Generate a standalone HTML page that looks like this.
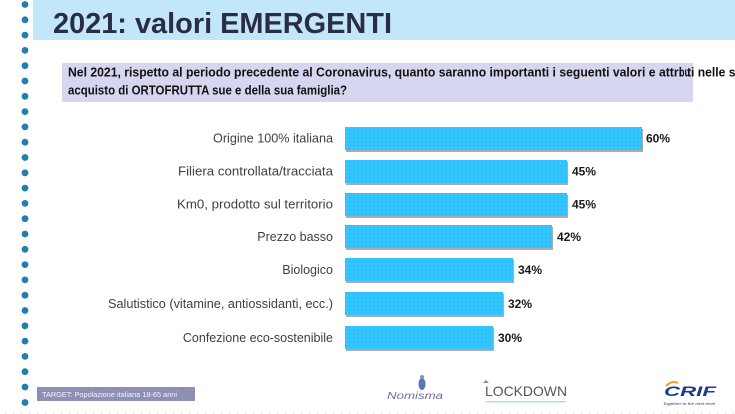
<!DOCTYPE html>
<html>
<head>
<meta charset="utf-8">
<style>
  html,body{margin:0;padding:0;background:#fff;}
  svg{display:block;}
  text{font-family:"Liberation Sans",Arial,sans-serif;}
</style>
</head>
<body>
<svg width="735" height="414" viewBox="0 0 735 414" xmlns="http://www.w3.org/2000/svg">
  <defs>
    <pattern id="barpat" width="4" height="4" patternUnits="userSpaceOnUse">
      <rect width="4" height="4" fill="#33c5ff"/>
      <rect x="1" y="1" width="1" height="1" fill="#2aa8f0"/>
    </pattern>
  </defs>

  <!-- left dots -->
  <g fill="#1f7fae">
    <circle cx="25" cy="4.5" r="3.4"/><circle cx="25" cy="19.8" r="3.4"/><circle cx="25" cy="35.1" r="3.4"/>
    <circle cx="25" cy="50.4" r="3.4"/><circle cx="25" cy="65.7" r="3.4"/><circle cx="25" cy="81" r="3.4"/>
    <circle cx="25" cy="96.3" r="3.4"/><circle cx="25" cy="111.6" r="3.4"/><circle cx="25" cy="126.9" r="3.4"/>
    <circle cx="25" cy="142.2" r="3.4"/><circle cx="25" cy="157.5" r="3.4"/><circle cx="25" cy="172.8" r="3.4"/>
    <circle cx="25" cy="188.1" r="3.4"/><circle cx="25" cy="203.4" r="3.4"/><circle cx="25" cy="218.7" r="3.4"/>
    <circle cx="25" cy="234" r="3.4"/><circle cx="25" cy="249.3" r="3.4"/><circle cx="25" cy="264.6" r="3.4"/>
    <circle cx="25" cy="279.9" r="3.4"/><circle cx="25" cy="295.2" r="3.4"/><circle cx="25" cy="310.5" r="3.4"/>
    <circle cx="25" cy="325.8" r="3.4"/><circle cx="25" cy="341.1" r="3.4"/><circle cx="25" cy="356.4" r="3.4"/>
    <circle cx="25" cy="371.7" r="3.4"/><circle cx="25" cy="387" r="3.4"/><circle cx="25" cy="402.5" r="3.4"/>
  </g>

  <!-- title band -->
  <rect x="33" y="0" width="702" height="40" fill="#c2e7fa"/>
  <text x="53" y="33" font-size="29" font-weight="bold" fill="#2a2d44" textLength="339" lengthAdjust="spacingAndGlyphs">2021: valori EMERGENTI</text>

  <!-- question box -->
  <rect x="62" y="63" width="631" height="39" fill="#d6d6f0"/>
  <text x="68" y="76.5" font-size="13" font-weight="bold" fill="#111" textLength="614" lengthAdjust="spacingAndGlyphs">Nel 2021, rispetto al periodo precedente al Coronavirus, quanto saranno importanti i seguenti valori e attri</text>
  <text x="679" y="76.5" font-size="13" font-weight="bold" fill="#111" textLength="11" lengthAdjust="spacingAndGlyphs">bu</text>
  <text x="687" y="76.5" font-size="13" font-weight="bold" fill="#111" textLength="62" lengthAdjust="spacingAndGlyphs">ti nelle sce</text>
  <text x="68" y="94.5" font-size="13" font-weight="bold" fill="#111" textLength="279" lengthAdjust="spacingAndGlyphs">acquisto di ORTOFRUTTA sue e della sua famiglia?</text>

  <!-- bars shadows -->
  <g fill="#ababab">
    <rect x="346" y="129" width="297" height="23"/>
    <rect x="346" y="162" width="222" height="23"/>
    <rect x="346" y="195" width="222" height="23"/>
    <rect x="346" y="227" width="207" height="23"/>
    <rect x="346" y="260" width="168" height="23"/>
    <rect x="346" y="294" width="158" height="23"/>
    <rect x="346" y="328" width="148" height="23"/>
  </g>
  <!-- bars -->
  <g fill="url(#barpat)">
    <rect x="345" y="127" width="297" height="23"/>
    <rect x="345" y="160" width="222" height="23"/>
    <rect x="345" y="193" width="222" height="23"/>
    <rect x="345" y="225" width="207" height="23"/>
    <rect x="345" y="258" width="168" height="23"/>
    <rect x="345" y="292" width="158" height="23"/>
    <rect x="345" y="326" width="148" height="23"/>
  </g>

  <!-- category labels -->
  <g font-size="12.5" fill="#404040" text-anchor="end">
    <text x="333" y="142.5" textLength="120" lengthAdjust="spacingAndGlyphs">Origine 100% italiana</text>
    <text x="333" y="175.5" textLength="155" lengthAdjust="spacingAndGlyphs">Filiera controllata/tracciata</text>
    <text x="333" y="208.5" textLength="156" lengthAdjust="spacingAndGlyphs">Km0, prodotto sul territorio</text>
    <text x="333" y="241">Prezzo basso</text>
    <text x="333" y="274">Biologico</text>
    <text x="333" y="308" textLength="225" lengthAdjust="spacingAndGlyphs">Salutistico (vitamine, antiossidanti, ecc.)</text>
    <text x="333" y="342">Confezione eco-sostenibile</text>
  </g>

  <!-- value labels -->
  <g font-size="12" font-weight="bold" fill="#1a1a1a">
    <text x="646" y="142.5">60%</text>
    <text x="572" y="175.5">45%</text>
    <text x="572" y="208.5">45%</text>
    <text x="557" y="241">42%</text>
    <text x="518" y="274">34%</text>
    <text x="508" y="308">32%</text>
    <text x="498" y="342">30%</text>
  </g>

  <!-- footer target box -->
  <rect x="37" y="387" width="158" height="14" fill="#8d8fb4"/>
  <text x="42" y="397" font-size="7" fill="#f4f4ff" textLength="135" lengthAdjust="spacingAndGlyphs">TARGET: Popolazione italiana 18-65 anni</text>

  <!-- Nomisma logo -->
  <ellipse cx="422" cy="384" rx="3.5" ry="6" fill="#5a78b8"/>
  <circle cx="422" cy="377" r="2" fill="#7a94c8"/>
  <text x="387" y="399" font-size="10" font-style="italic" font-family="Liberation Serif, serif" fill="#6a7398" textLength="56" lengthAdjust="spacingAndGlyphs">Nomisma</text>

  <!-- LOCKDOWN logo -->
  <path d="M483 383 l3 -3 l3 3 z" fill="#8a8a8a"/>
  <text x="485" y="396" font-size="14" fill="#555" textLength="82" lengthAdjust="spacingAndGlyphs">LOCKDOWN</text>
  <rect x="486" y="401" width="80" height="1.5" fill="#a8e2f2"/>

  <!-- CRIF logo -->
  <path d="M666 386 q6 -6 12 -3" stroke="#f0a020" stroke-width="2" fill="none"/>
  <text x="664" y="396" font-size="14" font-weight="bold" font-style="italic" fill="#1b3b8c" textLength="52" lengthAdjust="spacingAndGlyphs">CRIF</text>
  <text x="663" y="405" font-size="4" font-style="italic" fill="#1b3b8c" textLength="52" lengthAdjust="spacingAndGlyphs">Together to the next level</text>

  <!-- bottom dotted line -->
  <line x1="5" y1="413" x2="735" y2="413" stroke="#c4c4c4" stroke-width="1" stroke-dasharray="1,7"/>
</svg>
</body>
</html>
